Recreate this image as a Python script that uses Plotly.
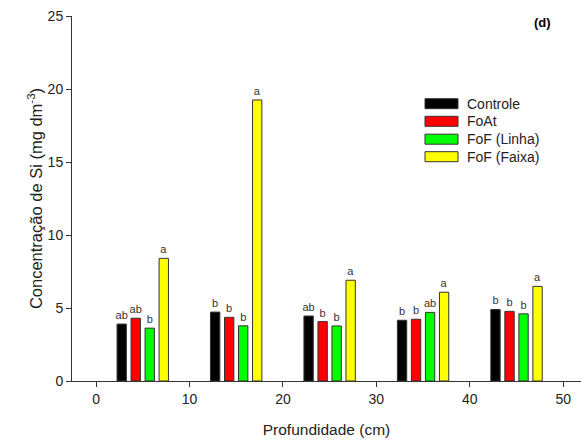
import plotly.graph_objects as go

depths = [5, 15, 25, 35, 45]
series_names = ["Controle", "FoAt", "FoF (Linha)", "FoF (Faixa)"]
controle = [3.9, 4.72, 4.45, 4.16, 4.9]
foat = [4.3, 4.36, 4.07, 4.23, 4.77]
fof_linha = [3.62, 3.78, 3.77, 4.7, 4.6]
fof_faixa = [8.4, 19.25, 6.9, 6.08, 6.48]
letters_controle = ["ab", "b", "ab", "b", "b"]
letters_foat = ["ab", "b", "b", "b", "b"]
letters_linha = ["b", "b", "b", "ab", "b"]
letters_faixa = ["a", "a", "a", "a", "a"]
colors = ["#000000", "#ff0000", "#00ff00", "#ffff00"]

values = [controle, foat, fof_linha, fof_faixa]
letters = [letters_controle, letters_foat, letters_linha, letters_faixa]

W, H = 581, 443
L, R, T, B = 72, 0, 16, 62
pw, ph = W - L - R, H - T - B
FONT = "Arial, Liberation Sans, sans-serif"

fig = go.Figure()
for name, vals, lets, col in zip(series_names, values, letters, colors):
    fig.add_trace(go.Bar(
        x=depths, y=vals, name=name, text=lets,
        textposition="outside", constraintext="none", cliponaxis=False,
        textfont=dict(family=FONT, size=11, color="#333333"),
        marker=dict(color=col, line=dict(color="#333333", width=1)),
        showlegend=False,
    ))

# custom legend with wide swatches
leg_y = [103.7, 121.3, 139.2, 156.7]
for name, col, py in zip(series_names, colors, leg_y):
    yc = (H - B - py) / ph
    fig.add_shape(type="rect", xref="paper", yref="paper",
                  x0=(425 - L) / pw, x1=(458 - L) / pw,
                  y0=yc - 5 / ph, y1=yc + 5 / ph,
                  fillcolor=col, line=dict(color="#333333", width=1))
    fig.add_annotation(xref="paper", yref="paper", x=(465 - L) / pw, y=yc,
                       text=name, showarrow=False, xanchor="left", yanchor="middle",
                       font=dict(family=FONT, size=14, color="#222222"))

fig.add_annotation(xref="paper", yref="paper", x=(553 - L) / pw, y=(H - B - 22) / ph,
                   text="<b>(d)</b>", showarrow=False, xanchor="right", yanchor="middle",
                   font=dict(family=FONT, size=13, color="#000000"))

fig.update_layout(
    width=W, height=H,
    margin=dict(l=L, r=R, t=T, b=B),
    plot_bgcolor="white", paper_bgcolor="white",
    barmode="group", bargap=0.4, bargroupgap=0.333,
    font=dict(family=FONT, color="#222222"),
)
fig.update_xaxes(
    range=[-2.57, 51.9], tickvals=[0, 10, 20, 30, 40, 50],
    showgrid=False, zeroline=False, showline=True, linecolor="#333333", linewidth=1,
    ticks="outside", ticklen=5, tickcolor="#333333",
    tickfont=dict(size=14),
    title=dict(text="Profundidade (cm)", font=dict(size=15.5), standoff=18),
)
fig.update_yaxes(
    range=[0, 25], tickvals=[0, 5, 10, 15, 20, 25],
    showgrid=False, zeroline=False, showline=True, linecolor="#333333", linewidth=1,
    ticks="outside", ticklen=5, tickcolor="#333333",
    tickfont=dict(size=14),
    title=dict(text="Concentração de Si (mg dm<sup>-3</sup>)", font=dict(size=16.5), standoff=0),
)

fig.write_html("out.html", config={"displayModeBar": False},
               post_script="document.body.style.margin='0';")
